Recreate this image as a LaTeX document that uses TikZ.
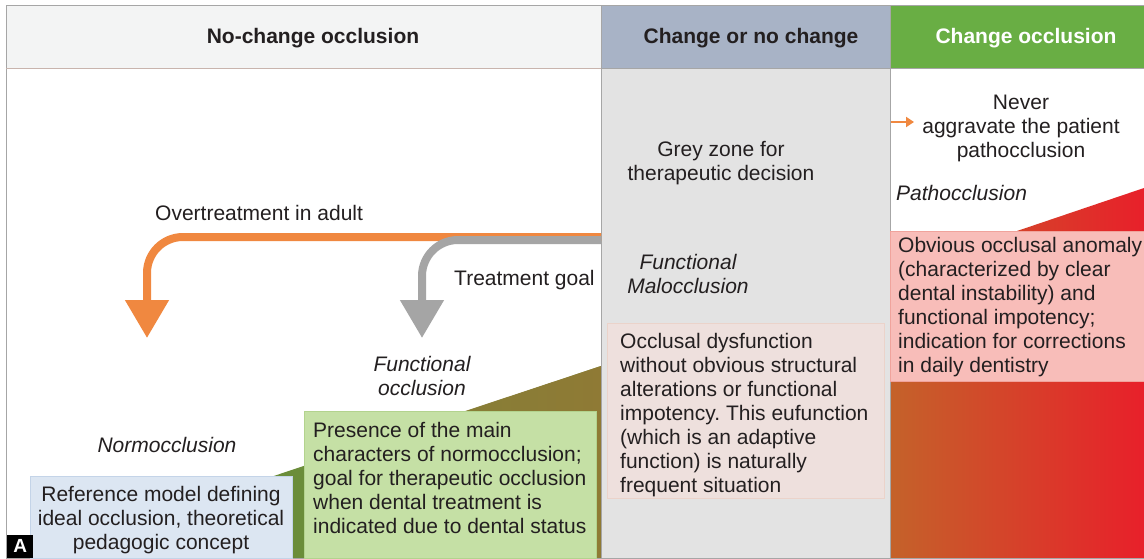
\documentclass[tikz,border=0pt]{standalone}
\usepackage{fontspec}
\setmainfont{Liberation Sans}
\usetikzlibrary{arrows.meta}
\definecolor{txt}{HTML}{231F20}
\definecolor{hdrone}{HTML}{F3F4F4}
\definecolor{hdrtwo}{HTML}{A8B3C6}
\definecolor{hdrthree}{HTML}{69AE44}
\definecolor{greypanel}{HTML}{E3E3E3}
\definecolor{frameline}{HTML}{A6A6A6}
\definecolor{hdrline}{HTML}{C8B4AD}
\definecolor{paleF}{HTML}{EEE0DD}
\definecolor{paleB}{HTML}{EBD3CA}
\definecolor{pinkF}{HTML}{F8BDB9}
\definecolor{pinkB}{HTML}{F0A39C}
\definecolor{gradL}{HTML}{C4622A}
\definecolor{gradR}{HTML}{E8202A}
\definecolor{wedgeG}{HTML}{6B8D3A}
\definecolor{wedgeO}{HTML}{8F7A35}
\definecolor{wedgeM}{HTML}{857F37}
\definecolor{blueF}{HTML}{DCE6F2}
\definecolor{blueB}{HTML}{C4D4E8}
\definecolor{greenF}{HTML}{C5E0A5}
\definecolor{greenB}{HTML}{B3D38E}
\definecolor{orangeA}{HTML}{F08840}
\definecolor{greyA}{HTML}{A5A5A5}
\tikzset{
  bodytext/.style={text=txt,font=\fontsize{21}{24}\selectfont,inner sep=0pt},
  hdrtext/.style={font=\fontsize{21}{24}\selectfont\bfseries,inner sep=0pt},
  itext/.style={text=txt,font=\fontsize{21}{24}\selectfont\itshape,inner sep=0pt},
  boxnode/.style={anchor=north west,line width=1pt,inner sep=0pt},
  bigarrow/.style={line width=8pt,rounded corners=36pt,-{Triangle[length=38pt,width=42pt]}},
}
\begin{document}
\begin{tikzpicture}[x=1pt,y=-1pt]
\useasboundingbox (0,0) rectangle (1144,559);
\fill[white] (0,0) rectangle (1144,559);
% header cells
\fill[hdrone] (6,6) rectangle (601,69);
\fill[hdrtwo] (601,6) rectangle (890,69);
\fill[hdrthree] (890,6) rectangle (1144,69);
% grey middle panel
\fill[greypanel] (601,69) rectangle (890,558);
% right gradient area
\shade[left color=gradL,right color=gradR] (1017,231) -- (1144,188) -- (1144,558) -- (890,558) -- (890,231) -- cycle;
% green/olive wedge
\fill[wedgeG] (250,484) -- (601,366) -- (601,558) -- (250,558) -- cycle;
\shade[left color=wedgeM,right color=wedgeO] (420,426) -- (601,366) -- (601,558) -- (420,558) -- cycle;
% frame lines
\draw[frameline,line width=1pt] (1144,6) -- (6,6) -- (6,558) -- (1144,558);
\draw[hdrline,line width=1pt] (6,69) -- (601,69);
\draw[frameline,line width=1pt] (601,69) -- (1144,69);
\draw[frameline,line width=1pt] (601,6) -- (601,558);
\draw[frameline,line width=1pt] (890,6) -- (890,558);
% header texts
\node[hdrtext,text=txt] (h1) at (313,38) {No-change occlusion};
\node[hdrtext,text=txt] (h2) at (751,38) {Change or no change};
\node[hdrtext,text=white] (h3) at (1026,38) {Change occlusion};
% boxes
\node[boxnode,draw=blueB,fill=blueF,minimum width=262pt,minimum height=82pt] (refbox) at (30,476) {};
\node[boxnode,draw=greenB,fill=greenF,minimum width=292pt,minimum height=147pt] (funcbox) at (304,411) {};
\node[boxnode,draw=paleB,fill=paleF,minimum width=277pt,minimum height=175pt] (dysbox) at (607,323) {};
\node[boxnode,draw=pinkB,fill=pinkF,minimum width=256pt,minimum height=150pt] (pathbox) at (890,231) {};
% box texts
\node[bodytext,align=center] (reftext) at (161,520) {Reference model defining\\ideal occlusion, theoretical\\pedagogic concept};
\node[bodytext,align=left,anchor=north west] (functext) at ([shift={(9pt,-11pt)}]funcbox.north west) {Presence of the main\\characters of normocclusion;\\goal for therapeutic occlusion\\when dental treatment is\\indicated due to dental status};
\node[bodytext,align=left,anchor=north west] (dystext) at ([shift={(13pt,-10pt)}]dysbox.north west) {Occlusal dysfunction\\without obvious structural\\alterations or functional\\impotency.\ This eufunction\\(which is an adaptive\\function) is naturally\\frequent situation};
\node[bodytext,align=left,anchor=north west] (pathtext) at ([shift={(8pt,-6pt)}]pathbox.north west) {Obvious occlusal anomaly\\(characterized by clear\\dental instability) and\\functional impotency;\\indication for corrections\\in daily dentistry};
% free texts
\node[bodytext,align=center] (never) at (1021,128) {Never\\aggravate the patient\\pathocclusion};
\node[itext,anchor=west] (patho) at (896,193) {Pathocclusion};
\node[bodytext,align=center] (grey) at (721,163) {Grey zone for\\therapeutic decision};
\node[itext,align=center] (funcmal) at (688,274) {Functional\\Malocclusion};
\node[bodytext,anchor=west] (over) at (155,213) {Overtreatment in adult};
\node[bodytext,anchor=west] (goal) at (454,280) {Treatment goal};
\node[itext,align=center] (funcocc) at (422,376) {Functional\\occlusion};
\node[itext] (normo) at (167,445) {Normocclusion};
% big arrows
\coordinate (ostart) at (601,237);
\coordinate (otip) at (147,338);
\coordinate (gstart) at (601,240);
\coordinate (gtip) at (422,338);
\draw[bigarrow,orangeA] (ostart) -| (otip);
\draw[bigarrow,greyA] (gstart) -| (gtip);
% small arrow
\coordinate (sastart) at (891,122);
\coordinate (saend) at (914,122);
\draw[orangeA,line width=2.5pt,-{Triangle[length=8pt,width=10pt]}] (sastart) -- (saend);
% panel label
\node[fill=black,minimum width=26pt,minimum height=23pt,anchor=south west,inner sep=0pt,text=white,font=\fontsize{19}{20}\selectfont\bfseries] (lab) at (7,558) {A};
\end{tikzpicture}
\end{document}
